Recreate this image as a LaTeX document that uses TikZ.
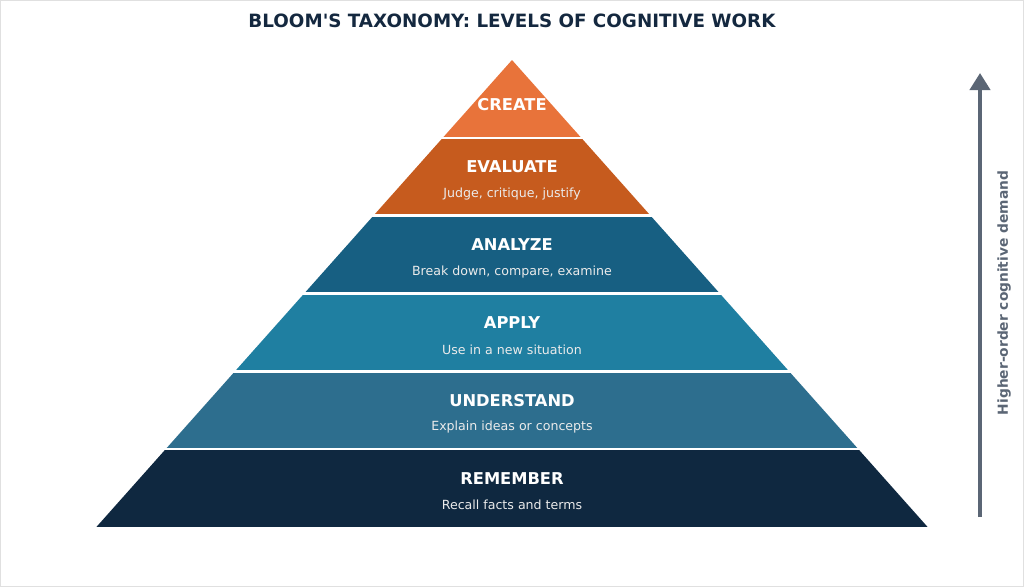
\documentclass[tikz,border=0pt]{standalone}
\usepackage{fontspec}
\setmainfont{DejaVu Sans}[Ligatures=TeXOff]
\usetikzlibrary{arrows.meta}

\definecolor{titlecol}{HTML}{14283F}
\definecolor{createcol}{HTML}{E8733A}
\definecolor{evalcol}{HTML}{C65B1E}
\definecolor{analyzecol}{HTML}{175F82}
\definecolor{applycol}{HTML}{1F7FA1}
\definecolor{undercol}{HTML}{2D6E8E}
\definecolor{remcol}{HTML}{0F2840}
\definecolor{arrowcol}{HTML}{5B6675}

\begin{document}
\begin{tikzpicture}[x=1pt, y=-1pt,
  lvl/.style={text=white, font=\bfseries\fontsize{16.3}{19}\selectfont},
  desc/.style={text=white!92!black, font=\fontsize{12.6}{15}\selectfont},
  sep/.style={white, line width=2.6pt}]
  \useasboundingbox (0,0) rectangle (1024,587);
  \draw[black!12] (0.5,0.5) rectangle (1023.5,586.5);
  \node[text=titlecol, font=\bfseries\fontsize{18.3}{21}\selectfont] (title) at (512,21) {BLOOM'S TAXONOMY: LEVELS OF COGNITIVE WORK};
  % pyramid layers, top to bottom
  \foreach \i/\name/\col in {0/CREATE/createcol, 1/EVALUATE/evalcol, 2/ANALYZE/analyzecol, 3/APPLY/applycol, 4/UNDERSTAND/undercol, 5/REMEMBER/remcol} {
    \pgfmathsetmacro\yt{60+77.83*\i}
    \pgfmathsetmacro\yb{\yt+77.83}
    \pgfmathsetmacro\wt{0.89*(\yt-60)}
    \pgfmathsetmacro\wb{0.89*(\yb-60)}
    \fill[\col] (512-\wt,\yt) -- (512+\wt,\yt) -- (512+\wb,\yb) -- (512-\wb,\yb) -- cycle;
  }
  \foreach \i in {1,...,5} {
    \draw[sep] (90,60+77.83*\i) -- (934,60+77.83*\i);
  }
  \node[lvl] (create) at (512,105) {CREATE};
  \foreach \i/\name/\text in {1/EVALUATE/{Judge, critique, justify}, 2/ANALYZE/{Break down, compare, examine}, 3/APPLY/{Use in a new situation}, 4/UNDERSTAND/{Explain ideas or concepts}, 5/REMEMBER/{Recall facts and terms}} {
    \node[lvl] (\name) at (512,60+77.83*\i+29) {\name};
    \node[desc] (\name-desc) at (512,60+77.83*\i+56) {\text};
  }
  % demand arrow
  \coordinate (low) at (980,517);
  \coordinate (high) at (980,73);
  \draw[arrowcol, line width=4pt, -{Triangle[width=20pt, length=17pt]}] (low) -- (high);
  \node[rotate=90, text=arrowcol, font=\bfseries\fontsize{13.8}{16}\selectfont] (demand) at (1004,293) {Higher-order cognitive demand};
\end{tikzpicture}
\end{document}
